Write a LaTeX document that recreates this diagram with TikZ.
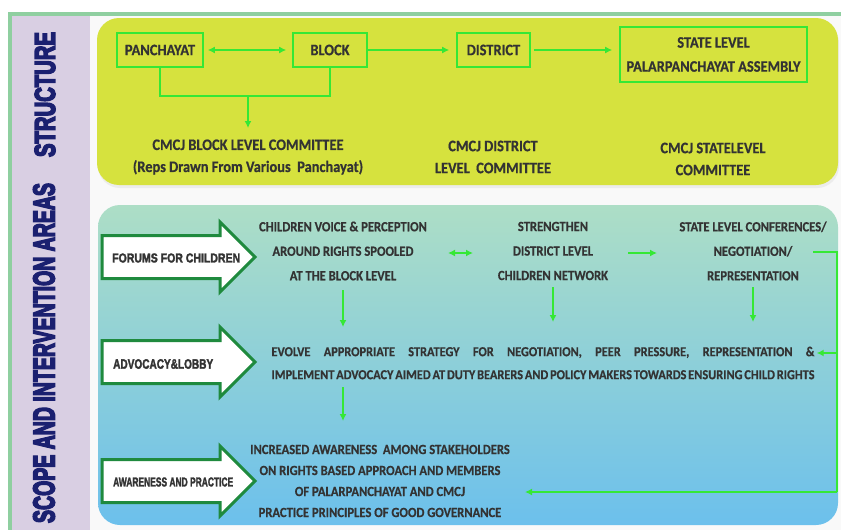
\documentclass[tikz,border=0pt]{standalone}
\usepackage{fontspec}
\setmainfont{Carlito}[FakeStretch=0.9,FakeBold=0.6]
\newfontfamily\hdfont{Liberation Sans}[FakeBold=6]
\newfontfamily\arfont{Liberation Sans}[FakeBold=2.5]
\usetikzlibrary{arrows.meta,calc}
\definecolor{framegreen}{HTML}{8FCFA0}
\definecolor{stripviolet}{HTML}{D9CFE3}
\definecolor{panelyellow}{HTML}{D6E23E}
\definecolor{paneltop}{HTML}{ADDEC6}
\definecolor{panelbot}{HTML}{6CC0EC}
\definecolor{navy}{HTML}{1B2070}
\definecolor{brightgreen}{HTML}{35E835}
\definecolor{darkgreen}{HTML}{1F8A3E}
\definecolor{txt}{HTML}{333333}
\tikzset{
  lbl/.style={font=\fontsize{16}{22}\selectfont\bfseries, text=txt, align=center, inner sep=2pt},
  lbls/.style={font=\fontsize{14}{24.5}\selectfont\bfseries, text=txt, align=center, inner sep=2pt},
  sbox/.style={draw=brightgreen, line width=1.6pt, font=\fontsize{16}{24}\selectfont\bfseries, text=txt, align=center, inner sep=2pt},
  gline/.style={draw=brightgreen, line width=2pt},
  garrow/.style={gline, -{Latex[length=7pt,width=7pt]}},
  gdouble/.style={gline, {Latex[length=7pt,width=7pt]}-{Latex[length=7pt,width=7pt]}},
  arrtxt/.style={text=txt, anchor=west, inner sep=0pt},
  barrow/.pic={\draw[darkgreen, line width=3pt, fill=white, line join=miter]
     (0,-21.5) -- (118,-21.5) -- (118,-35) -- (153,0) -- (118,35) -- (118,21.5) -- (0,21.5) -- cycle;},
  vhead/.style={rotate=90, text=navy, inner sep=0pt}
}
\begin{document}
\begin{tikzpicture}[x=1pt,y=-1pt]
\useasboundingbox (0,0) rectangle (841,530);
% background and frame
\fill[white] (0,0) rectangle (841,530);
\fill[gray!5] (12,15) rectangle (841,530);
\fill[framegreen] (8,12) rectangle (841,16);
\fill[framegreen] (8,12) rectangle (12,530);
\fill[stripviolet] (12,16) rectangle (90,530);
% panels
\fill[gray!15, rounded corners=22] (98,21) rectangle (839,188);
\fill[panelyellow, rounded corners=22] (97,18) rectangle (838,185);
\shade[top color=paneltop, bottom color=panelbot, rounded corners=22] (98,205) rectangle (838,525);
% vertical headings
\node[vhead] (hstruct) at (45,94.5) {\resizebox{125pt}{20pt}{\hdfont\bfseries STRUCTURE}};
\node[vhead] (hscope) at (44,353) {\resizebox{340pt}{21pt}{\hdfont\bfseries SCOPE AND INTERVENTION AREAS}};

% structure boxes
\node[sbox, minimum width=86pt, minimum height=34pt] (pan) at (160,50) {PANCHAYAT};
\node[sbox, minimum width=74pt, minimum height=34pt] (blk) at (330,50) {BLOCK};
\node[sbox, minimum width=73pt, minimum height=34pt] (dis) at (493.5,50) {DISTRICT};
\node[sbox, minimum width=187pt, minimum height=55pt] (sta) at (713.5,54.5) {STATE LEVEL\\PALARPANCHAYAT ASSEMBLY};

\draw[gdouble] ([xshift=4pt]pan.east) -- ([xshift=-6pt]blk.west);
\draw[garrow] (blk.east) -- ([xshift=-7pt]dis.west);
\draw[garrow] ([xshift=3pt]dis.east) -- ([xshift=-7pt]sta.west |- dis.east);

% committees
\node[lbl] (cbl) at (248,157) {CMCJ BLOCK LEVEL COMMITTEE\\(Reps Drawn From Various~~Panchayat)};
\node[lbl] (cdl) at (493,157) {CMCJ DISTRICT\\LEVEL~~COMMITTEE};
\node[lbl] (csl) at (713,159) {CMCJ STATELEVEL\\COMMITTEE};

\coordinate (jn) at (248,96);
\draw[gline] (pan.south) |- (jn) -| (blk.south);
\draw[garrow] (jn) -- (jn |- 0,128);

% block arrows
\pic at (102,257) {barrow};
\pic at (102,362) {barrow};
\pic at (102,481) {barrow};
\node[arrtxt] (af) at (112,258) {\resizebox{128pt}{9pt}{\arfont\bfseries FORUMS FOR CHILDREN}};
\node[arrtxt] (aa) at (113,364) {\resizebox{100pt}{9.5pt}{\arfont\bfseries ADVOCACY\&LOBBY}};
\node[arrtxt] (ap) at (113,482) {\resizebox{120pt}{9pt}{\arfont\bfseries AWARENESS AND PRACTICE}};

% intervention texts
\node[lbls] (cv) at (343,251) {CHILDREN VOICE \& PERCEPTION\\AROUND RIGHTS SPOOLED\\AT THE BLOCK LEVEL};
\node[lbls] (sd) at (553,251) {STRENGTHEN\\DISTRICT LEVEL\\CHILDREN NETWORK};
\node[lbls] (sl) at (753,251) {STATE LEVEL CONFERENCES/\\NEGOTIATION/\\REPRESENTATION};
\node[lbls, font=\fontsize{13.7}{23}\selectfont\bfseries] (ev) at (543,363)
  {\makebox[543pt][s]{EVOLVE APPROPRIATE STRATEGY FOR NEGOTIATION, PEER PRESSURE, REPRESENTATION \&}\\
   \makebox[543pt][s]{IMPLEMENT ADVOCACY AIMED AT DUTY BEARERS AND POLICY MAKERS TOWARDS ENSURING CHILD RIGHTS}};
\node[lbls, font=\fontsize{14}{21}\selectfont\bfseries] (aw) at (380,481)
  {INCREASED AWARENESS~~AMONG STAKEHOLDERS\\ON RIGHTS BASED APPROACH AND MEMBERS\\OF PALARPANCHAYAT AND CMCJ\\PRACTICE PRINCIPLES OF GOOD GOVERNANCE};

\coordinate (h1a) at (448,253);
\coordinate (h1b) at (473,253);
\coordinate (h2a) at (628,253);
\coordinate (h2b) at (657,253);
\draw[gdouble] (h1a) -- (h1b);
\draw[garrow] (h2a) -- (h2b);

\draw[garrow] (cv.south |- 0,290) -- (cv.south |- 0,327);
\draw[garrow] (sd.south |- 0,287) -- (sd.south |- 0,322);
\draw[garrow] (sl.south |- 0,287) -- (sl.south |- 0,322);
\draw[garrow] (cv.south |- 0,387) -- (cv.south |- 0,421);

\coordinate (r0) at (813,252);
\coordinate (r1) at (837,252);
\coordinate (r2) at (837,492);
\coordinate (r3) at (837,353);
\draw[gline] (r0) -- (r1) -- (r2);
\draw[garrow] (r3) -- (ev.east |- r3);
\draw[garrow] (r2) -- (525,492);
\end{tikzpicture}
\end{document}
